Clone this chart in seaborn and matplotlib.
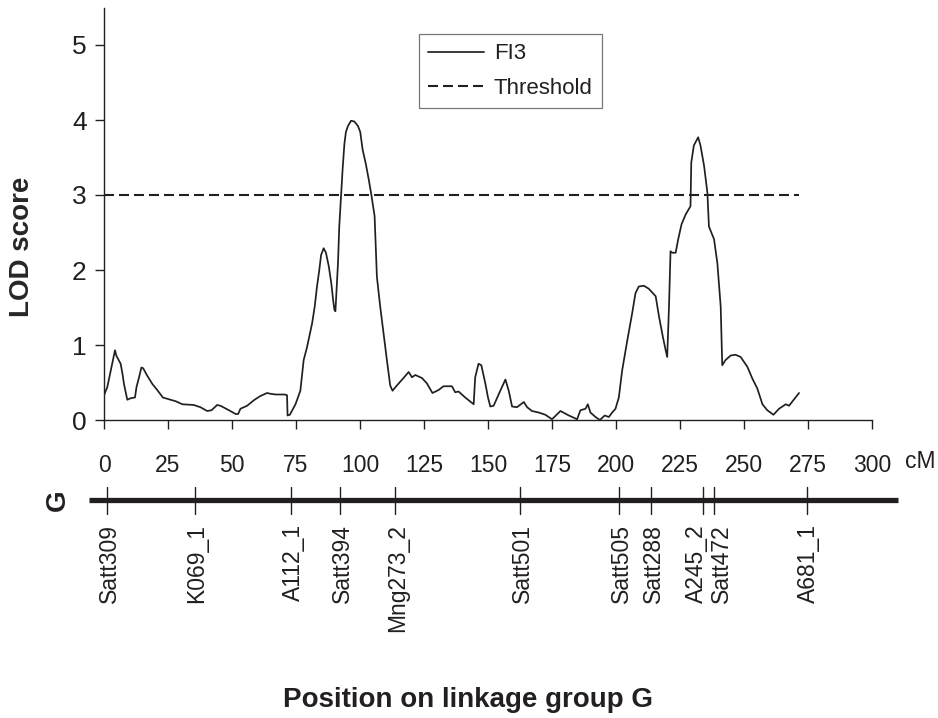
import matplotlib
matplotlib.use("Agg")
import matplotlib.pyplot as plt
import matplotlib.transforms as mtransforms
import seaborn as sns
import pandas as pd

# ---------------- data ----------------
position_cm = [
    0, 1.3, 4.3, 4.8, 6.5, 7.2, 7.8, 9.1, 10.4, 12.1,
    12.7, 13.7, 14.6, 15.3, 16.9, 18.9, 20.8, 23.0, 26.0, 28.0,
    30.6, 35.1, 37.7, 40.3, 42.0, 44.2, 45.5, 48.8, 51.4, 52.4,
    53.3, 55.9, 58.8, 61.1, 63.7, 65.0, 67.0, 70.6, 71.5, 71.7,
    72.6, 74.8, 76.7, 78.0, 79.3, 81.3, 82.3, 83.2, 84.1, 84.8,
    85.8, 86.7, 87.8, 88.8, 89.5, 90.0, 90.4, 90.9, 91.4, 91.9,
    92.6, 93.2, 93.9, 94.5, 95.3, 96.5, 97.8, 99.2, 100.1, 101.0,
    102.3, 103.4, 104.4, 105.7, 106.6, 107.9, 109.2, 110.5, 111.8, 112.7,
    114.4, 117.0, 119.0, 120.3, 121.6, 124.2, 126.1, 128.3, 130.7,
    132.6, 135.9, 137.2, 138.5, 141.1, 144.4, 145.0, 146.3, 147.4, 149.0,
    150.0, 150.9, 152.2, 154.8, 156.8, 158.1, 159.4, 161.3, 164.0, 165.3,
    167.2, 169.8, 172.4, 175.0, 178.3, 181.6, 184.8, 186.1, 188.1, 189.0,
    190.0, 192.0, 193.7, 195.6, 197.2, 198.5, 199.8, 201.1, 202.4, 204.4,
    206.3, 207.6, 208.9, 210.9, 212.8, 215.5, 216.8, 218.3, 219.4, 220.0,
    220.7, 221.3, 222.0, 223.3, 224.3, 225.6, 227.2, 229.1, 229.4, 230.4,
    232.1, 233.0, 234.4, 235.7, 236.3, 238.3, 239.6, 240.9, 241.5, 242.8,
    244.8, 246.7, 248.7, 251.3, 253.3, 255.2, 257.2, 259.1, 261.5, 263.7,
    266.3, 267.6, 269.2, 271.5,
]
lod_fi3 = [
    0.33, 0.44, 0.93, 0.86, 0.75, 0.62, 0.48, 0.27, 0.29, 0.30,
    0.44, 0.57, 0.70, 0.69, 0.59, 0.48, 0.40, 0.30, 0.27, 0.25,
    0.21, 0.20, 0.17, 0.12, 0.13, 0.20, 0.19, 0.13, 0.08, 0.08,
    0.15, 0.19, 0.27, 0.32, 0.36, 0.35, 0.34, 0.34, 0.33, 0.06,
    0.07, 0.21, 0.39, 0.80, 0.97, 1.29, 1.51, 1.78, 2.00, 2.20,
    2.29, 2.23, 2.05, 1.82, 1.60, 1.47, 1.45, 1.78, 2.09, 2.58,
    2.99, 3.34, 3.68, 3.84, 3.92, 3.99, 3.98, 3.92, 3.84, 3.61,
    3.41, 3.21, 3.01, 2.72, 1.91, 1.51, 1.15, 0.80, 0.46, 0.39,
    0.46, 0.56, 0.64, 0.57, 0.60, 0.56, 0.49, 0.36, 0.40,
    0.45, 0.45, 0.37, 0.38, 0.30, 0.21, 0.57, 0.75, 0.73, 0.48,
    0.30, 0.18, 0.19, 0.39, 0.54, 0.39, 0.18, 0.17, 0.24, 0.17,
    0.12, 0.10, 0.07, 0.01, 0.12, 0.06, 0.01, 0.13, 0.15, 0.21,
    0.10, 0.04, 0.00, 0.06, 0.04, 0.10, 0.15, 0.30, 0.66, 1.06,
    1.42, 1.69, 1.78, 1.79, 1.75, 1.65, 1.38, 1.11, 0.93, 0.84,
    1.51, 2.25, 2.23, 2.23, 2.41, 2.61, 2.74, 2.85, 3.43, 3.66,
    3.77, 3.66, 3.39, 3.03, 2.58, 2.41, 2.09, 1.51, 0.73, 0.80,
    0.86, 0.87, 0.84, 0.71, 0.55, 0.42, 0.21, 0.13, 0.07, 0.15,
    0.21, 0.19, 0.26, 0.36,
]
threshold_x = [0, 271.5]
threshold_y = [3, 3]

x_ticks = [0, 25, 50, 75, 100, 125, 150, 175, 200, 225, 250, 275, 300]
y_ticks = [0, 1, 2, 3, 4, 5]

marker_names = ["Satt309", "K069_1", "A112_1", "Satt394", "Mng273_2", "Satt501",
                "Satt505", "Satt288", "A245_2", "Satt472", "A681_1"]
marker_pos_cm = [1.2, 35.5, 73.0, 92.3, 113.8, 162.6, 201.2, 213.7, 234.1, 238.3, 274.5]
map_extent_cm = [-6, 310]

# ---------------- style ----------------
sns.set_theme(style="ticks")
plt.rcParams["font.family"] = ["Liberation Sans", "DejaVu Sans"]
plt.rcParams["text.color"] = "#231f20"
plt.rcParams["axes.edgecolor"] = "#231f20"

W, H = 938, 718
fig = plt.figure(figsize=(W / 100, H / 100), dpi=100)

def fx(px):
    return px / W

def fy(py):
    return 1 - py / H

# main LOD axes
ax = fig.add_axes([fx(104), fy(420), fx(872) - fx(104), fy(7.5) - fy(420)])
df_curve = pd.DataFrame({"cM": position_cm, "LOD": lod_fi3})
df_thr = pd.DataFrame({"cM": threshold_x, "LOD": threshold_y})

sns.lineplot(data=df_curve, x="cM", y="LOD", ax=ax, color="#231f20",
             linewidth=1.25, sort=False, label="FI3")
sns.lineplot(data=df_thr, x="cM", y="LOD", ax=ax, color="#231f20",
             linewidth=1.5, linestyle=(0, (4.8, 2.4)), sort=False, label="Threshold")

ax.set_xlim(0, 300)
ax.set_ylim(0, 5.5)
ax.set_xticks(x_ticks)
ax.set_xticklabels([str(t) for t in x_ticks])
ax.set_yticks(y_ticks)
ax.set_yticklabels([str(t) for t in y_ticks])
ax.tick_params(axis="x", direction="out", length=6.5, width=1, pad=18,
               labelsize=16.5, colors="#231f20")
ax.tick_params(axis="y", direction="out", length=6.5, width=1, pad=6,
               labelsize=19, colors="#231f20")
for side in ["top", "right"]:
    ax.spines[side].set_visible(False)
for side in ["left", "bottom"]:
    ax.spines[side].set_linewidth(1.0)
ax.set_xlabel("")
ax.set_ylabel("LOD score", fontsize=20, fontweight="bold", va="center")
ax.yaxis.set_label_coords(-0.107, 0.419)

leg = ax.legend(loc="upper left", bbox_to_anchor=(fx(419), fy(34)),
                bbox_transform=fig.transFigure, borderaxespad=0,
                fontsize=16, frameon=True, fancybox=False,
                handlelength=2.5, handletextpad=0.45, borderpad=0.42,
                labelspacing=0.62)
leg.get_frame().set_edgecolor("#555555")
leg.get_frame().set_linewidth(0.9)

fig.text(fx(905), fy(462), "cM", fontsize=16.5, ha="left", va="center")

# linkage map axes (y in pixel rows for layout)
axm = fig.add_axes([fx(104), fy(650), fx(872) - fx(104), fy(470) - fy(650)])
axm.set_xlim(0, 300)
axm.set_ylim(650, 470)
axm.axis("off")
axm.plot(map_extent_cm, [500, 500], color="#231f20", linewidth=3.8,
         solid_capstyle="butt", clip_on=False)
nudge_pt = {"A245_2": -5.0, "Satt472": 5.5}
for name, pos in zip(marker_names, marker_pos_cm):
    axm.plot([pos, pos], [487, 514], color="#231f20", linewidth=1.0, clip_on=False)
    tr = mtransforms.offset_copy(axm.transData, fig=fig,
                                 x=nudge_pt.get(name, 1.5), y=0, units="points")
    axm.text(pos, 524, name, rotation=90, ha="center", va="top",
             fontsize=16.5, transform=tr, clip_on=False)

fig.text(fx(58), fy(500), "G", fontsize=20, fontweight="bold", rotation=90,
         ha="center", va="center")
fig.text(fx(468), fy(700), "Position on linkage group G", fontsize=20,
         fontweight="bold", ha="center", va="center")

fig.savefig("out.png", dpi=100)
